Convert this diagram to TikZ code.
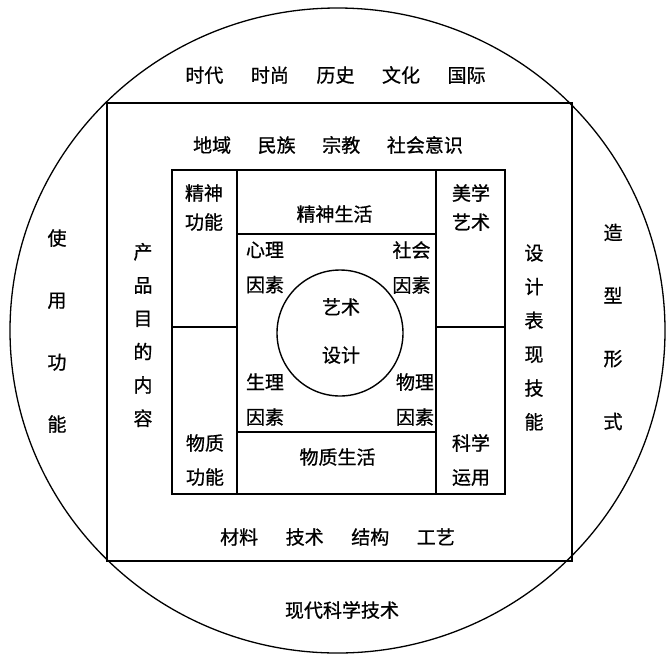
\documentclass[tikz,border=0pt]{standalone}
\usepackage{fontspec}
\newfontfamily\cjk[FakeBold=0.8]{Noto Sans CJK SC}
\usetikzlibrary{positioning}

\begin{document}
\begin{tikzpicture}[x=1pt, y=-1pt,
		txt/.style={font=\cjk\fontsize{19}{22}\selectfont, inner sep=0pt},
		col/.style={txt, align=center, font=\cjk\fontsize{19}{#1}\selectfont},
		frame/.style={line width=2pt}]
			\fill [white] (0,0) rectangle (666,654);
			\useasboundingbox (0,0) rectangle (666,654);
			\draw [line width=1.3pt] (337.5,330.5) ellipse [x radius=327.5pt, y radius=322.5pt];
			\draw [frame] (107,103) rectangle (572,561);
			\draw [frame] (172,170) rectangle (505,494);
			\draw [frame] (237,170) -- (237,494) (436,170) -- (436,494);
			\draw [frame] (237,234) -- (436,234) (237,432) -- (436,432);
			\draw [frame] (172,327) -- (237,327) (436,327) -- (505,327);
			\node (core) [draw, circle, line width=1.4pt, minimum size=126pt] at (340,333) {};
			
			\node (era) [txt] at (335.5,75) {时代\hspace{1.45em}时尚\hspace{1.45em}历史\hspace{1.45em}文化\hspace{1.45em}国际};
			\node (soc) [txt] at (328,145) {地域\hspace{1.4em}民族\hspace{1.4em}宗教\hspace{1.4em}社会意识};
			\node (mat) [txt] at (337.5,537) {材料\hspace{1.45em}技术\hspace{1.45em}结构\hspace{1.45em}工艺};
			\node (tech) [txt] at (342,610) {现代科学技术};
			
			\node (use) [col=62pt] at (57,331) {使\\用\\功\\能};
			\node (form) [col=63pt] at (613,327) {造\\型\\形\\式};
			\node (aim) [col=33.3pt] at (143,335) {产\\品\\目\\的\\内\\容};
			\node (skill) [col=33.8pt] at (534,337.5) {设\\计\\表\\现\\技\\能};
			
			\node (spf) [col=29pt] at (204,207.5) {精神\\功能};
			\node (aes) [col=29pt] at (471,207.5) {美学\\艺术};
			\node (spl) [txt] at (334.5,214) {精神生活};
			\node (psy) [col=35pt] at (265,267.5) {心理\\因素};
			\node (sfac) [col=35pt] at (411.5,267.5) {社会\\因素};
			\node (art) [col=48pt] at (341,331) {艺术\\设计};
			\node (phy) [col=35pt] at (265,399.5) {生理\\因素};
			\node (pfac) [col=35pt] at (415,399.5) {物理\\因素};
			\node (mtf) [col=34pt] at (205,460) {物质\\功能};
			\node (mtl) [txt] at (337.5,457) {物质生活};
			\node (sci) [col=34pt] at (471,460) {科学\\运用};
		\end{tikzpicture}
\end{document}
